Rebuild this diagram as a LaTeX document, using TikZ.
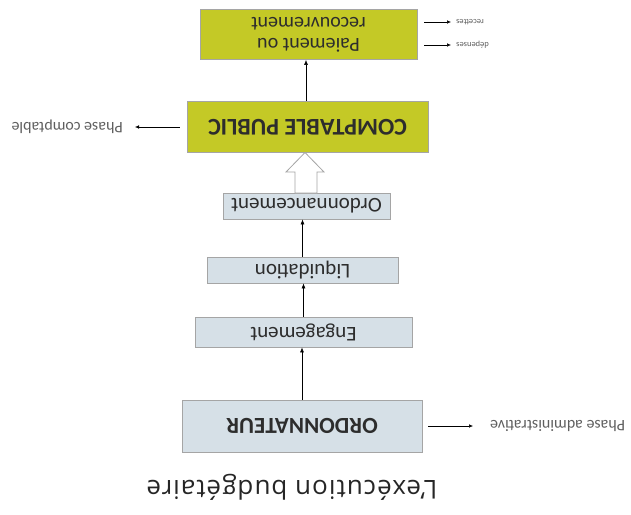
\documentclass[tikz,border=0pt]{standalone}
\usepackage{fontspec}
\setmainfont{Carlito}
\newfontfamily\titlefont[LetterSpace=4]{Open Sans}
\usetikzlibrary{arrows.meta}
\definecolor{ygreen}{RGB}{196,201,38}
\definecolor{lblue}{RGB}{214,224,231}
\definecolor{bord}{RGB}{165,165,165}
\definecolor{txt}{RGB}{45,45,45}
\definecolor{labc}{RGB}{95,95,95}
\tikzset{
  box/.style={draw=bord, line width=0.8pt, rotate=180, inner sep=0pt, align=center, text=txt},
  ybox/.style={box, fill=ygreen},
  gbox/.style={box, fill=lblue},
  arr/.style={line width=0.6pt, -{Latex[length=5pt,width=4pt]}},
  sarr/.style={line width=0.5pt, -{Latex[length=4pt,width=3.5pt]}},
  lab/.style={rotate=180, inner sep=2pt, text=labc, font=\fontsize{16}{18}\selectfont},
  tinylab/.style={rotate=180, inner sep=1pt, text=labc, font=\fontsize{8.5}{9}\selectfont}
}
\begin{document}
\begin{tikzpicture}[x=1pt,y=-1pt]
\useasboundingbox (0,0) rectangle (631,514);
\clip (0,0) rectangle (631,514);
% boxes
\node[ybox, minimum width=217pt, minimum height=50pt, font=\fontsize{20}{21}\selectfont] (pay) at (308.5,34.5) {Paiement ou\\recouvrement};
\node[ybox, minimum width=241pt, minimum height=51pt, font=\fontsize{24}{28}\selectfont\bfseries] (comp) at (307.5,127) {COMPTABLE PUBLIC};
\node[gbox, minimum width=167pt, minimum height=26pt, font=\fontsize{21}{24}\selectfont] (ordo) at (306.5,206) {Ordonnancement};
\node[gbox, minimum width=191pt, minimum height=26pt, font=\fontsize{21}{24}\selectfont] (liq) at (302.5,270) {Liquidation};
\node[gbox, minimum width=217pt, minimum height=30pt, font=\fontsize{21}{24}\selectfont] (eng) at (303.5,332) {Engagement};
\node[gbox, minimum width=240pt, minimum height=52pt, font=\fontsize{23}{27}\selectfont\bfseries] (ordn) at (302,426) {ORDONNATEUR};
% vertical arrows
\draw[arr] (ordn.south) -- (ordn.south |- eng.north);
\draw[arr] (eng.south) -- (eng.south |- liq.north);
\draw[arr] (liq.south) -- (liq.south |- ordo.north);
\draw[arr] (comp.south) ++(-1.5,0) coordinate (cs) -- (cs |- pay.north);
% hollow block arrow
\draw[draw=bord, line width=0.8pt, fill=white] (305,152.5) -- (324,172) -- (317,172) -- (317,193) -- (295,193) -- (295,172) -- (286,172) -- cycle;
% side labels
\node[lab, anchor=west] (pc) at (125,127) {Phase comptable};
\draw[sarr, shorten <=7pt, shorten >=10pt] (comp.east) -- (pc.west);
\node[lab, anchor=east] (pa) at (488,426) {Phase administrative};
\draw[sarr, shorten <=6pt, shorten >=15pt] (ordn.west) -- (pa.east);
\node[tinylab, anchor=east] (rec) at (455,22) {recettes};
\node[tinylab, anchor=east] (dep) at (455,45) {dépenses};
\draw[sarr, shorten <=7pt, shorten >=4pt] (pay.west |- rec.east) -- (rec.east);
\draw[sarr, shorten <=7pt, shorten >=4pt] (pay.west |- dep.east) -- (dep.east);
% title
\node[rotate=180, inner sep=0pt, text=black!85, font=\titlefont\fontsize{26}{30}\selectfont] (title) at (292,487) {L’exécution budgétaire};
\end{tikzpicture}
\end{document}
